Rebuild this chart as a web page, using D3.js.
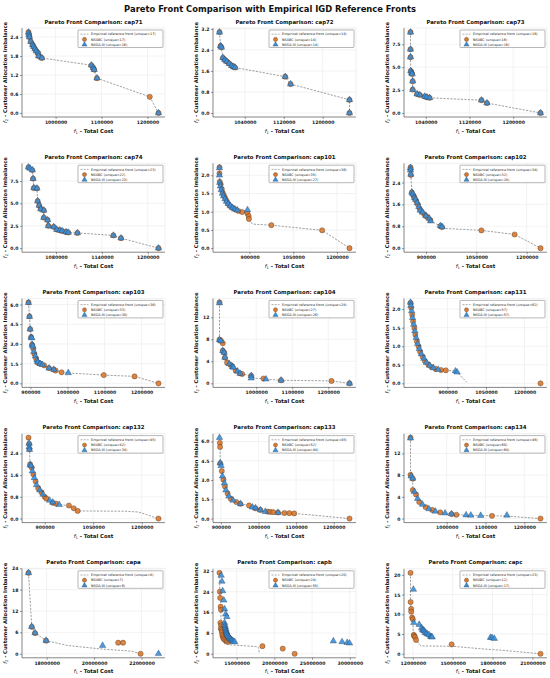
<!DOCTYPE html>
<html>
<head>
<meta charset="utf-8">
<script src="https://cdn.jsdelivr.net/npm/d3@7"></script>
<style>
  body { margin: 0; background: #fff; }
  text { font-family: "DejaVu Sans", sans-serif; }
</style>
</head>
<body>
<script>
// ---- data: [total cost, imbalance] ----
var panelNames = ["cap71","cap72","cap73","cap74","cap101","cap102","cap103","cap104",
                  "cap131","cap132","cap133","cap134","capa","capb","capc"];

var uniqueRef   = [17,14,16,23,36,34,36,28,62,45,45,46,8,20,23];
var uniqueNsabc = [17,14,16,22,35,32,33,27,57,42,52,60,7,24,12];
var uniqueNsga  = [16,14,16,23,27,28,30,26,57,34,44,64,6,55,17];

// cap71
var refCap71 = [[941000,2.56],[942000,2.48],[943000,2.40],[946000,2.26],[950000,2.16],[952000,2.10],[955000,2.03],[958000,1.96],[962000,1.90],[963000,1.80],[970000,1.74],[1078000,1.51],[1082000,1.43],[1084000,1.37],[1090000,1.10],[1205000,0.51],[1224000,0.0]];
var nsabcCap71 = [[941000,2.56],[942000,2.48],[943000,2.40],[946000,2.26],[950000,2.16],[952000,2.10],[955000,2.03],[958000,1.96],[962000,1.90],[963000,1.80],[970000,1.74],[1078000,1.51],[1082000,1.43],[1084000,1.37],[1090000,1.10],[1205000,0.51],[1224000,0.0]];
var nsgaCap71 = [[941000,2.55],[942000,2.47],[943000,2.40],[946000,2.26],[950000,2.16],[952000,2.10],[955000,2.03],[958000,1.96],[962000,1.90],[963000,1.80],[970000,1.74],[1078000,1.51],[1082000,1.43],[1084000,1.37],[1090000,1.10],[1224000,0.0]];

// cap72
var refCap72 = [[988000,3.08],[990000,2.55],[992000,2.50],[995000,2.10],[999000,2.02],[1003000,1.96],[1008000,1.88],[1013000,1.80],[1017000,1.76],[1020000,1.73],[1123000,1.38],[1134000,1.10],[1255000,0.50],[1255000,0.0]];
var nsabcCap72 = [[988000,3.08],[990000,2.55],[992000,2.50],[995000,2.10],[999000,2.02],[1003000,1.96],[1008000,1.88],[1013000,1.80],[1017000,1.76],[1020000,1.73],[1123000,1.38],[1134000,1.10],[1255000,0.50],[1255000,0.0]];
var nsgaCap72 = [[988000,3.07],[990000,2.55],[992000,2.50],[995000,2.10],[999000,2.02],[1003000,1.96],[1008000,1.88],[1013000,1.80],[1017000,1.76],[1020000,1.73],[1123000,1.38],[1134000,1.10],[1255000,0.50],[1255000,0.0]];

// cap73
var refCap73 = [[1012000,8.83],[1012000,6.95],[1012000,6.09],[1012500,4.59],[1014000,4.40],[1015000,4.25],[1016000,3.46],[1016000,2.55],[1024000,2.07],[1029000,1.97],[1038000,1.80],[1042000,1.72],[1047000,1.65],[1142000,1.39],[1152000,1.08],[1250000,0.0]];
var nsabcCap73 = [[1012000,8.83],[1012000,6.95],[1012000,6.09],[1012500,4.59],[1014000,4.40],[1015000,4.25],[1016000,3.46],[1016000,2.55],[1024000,2.07],[1029000,1.97],[1038000,1.80],[1042000,1.72],[1047000,1.65],[1142000,1.39],[1152000,1.08],[1250000,0.0]];
var nsgaCap73 = [[1012000,8.80],[1012000,6.95],[1012000,6.09],[1012500,4.59],[1014000,4.40],[1015000,4.25],[1016000,3.46],[1016000,2.55],[1024000,2.07],[1029000,1.97],[1038000,1.80],[1042000,1.72],[1047000,1.65],[1142000,1.39],[1152000,1.08],[1250000,0.0]];

// cap74
var refCap74 = [[1044000,9.04],[1046000,8.90],[1049000,8.73],[1050000,7.77],[1051000,6.73],[1055000,6.69],[1056000,5.27],[1058000,4.77],[1060000,4.38],[1064000,4.23],[1064000,3.42],[1069000,3.15],[1070000,2.50],[1077000,2.38],[1081000,2.08],[1085000,2.00],[1088000,1.92],[1093000,1.81],[1096000,1.75],[1108000,1.70],[1155000,1.42],[1165000,1.12],[1214000,0.0]];
var nsabcCap74 = [[1044000,9.04],[1049000,8.73],[1050000,7.77],[1051000,6.73],[1055000,6.69],[1056000,5.27],[1058000,4.77],[1060000,4.38],[1064000,4.23],[1064000,3.42],[1069000,3.15],[1070000,2.50],[1077000,2.38],[1081000,2.08],[1085000,2.00],[1088000,1.92],[1093000,1.81],[1096000,1.75],[1108000,1.70],[1155000,1.42],[1165000,1.12],[1214000,0.0]];
var nsgaCap74 = [[1044000,9.04],[1046000,8.90],[1049000,8.73],[1050000,7.77],[1051000,6.73],[1055000,6.69],[1056000,5.27],[1058000,4.77],[1060000,4.38],[1064000,4.23],[1064000,3.42],[1069000,3.15],[1070000,2.50],[1077000,2.38],[1081000,2.08],[1085000,2.00],[1088000,1.92],[1093000,1.81],[1096000,1.75],[1108000,1.70],[1155000,1.42],[1165000,1.12],[1214000,0.0]];

// cap101
var refCap101 = [[797000,2.22],[797000,2.05],[797500,1.99],[798000,1.82],[801000,1.75],[805000,1.62],[808000,1.52],[812000,1.45],[817000,1.37],[822000,1.29],[828000,1.21],[835000,1.15],[843000,1.10],[852000,1.06],[862000,1.02],[875000,0.99],[893000,0.95],[897000,0.88],[898000,0.80],[910000,0.66],[975000,0.63],[1149000,0.49],[1243000,0.0]];
var nsabcCap101 = [[797000,2.22],[797000,2.05],[798000,1.82],[801000,1.75],[805000,1.62],[808000,1.52],[812000,1.45],[817000,1.37],[822000,1.29],[828000,1.21],[835000,1.15],[843000,1.10],[852000,1.06],[862000,1.02],[875000,0.99],[893000,0.95],[897000,0.88],[898000,0.80],[975000,0.63],[1149000,0.49],[1243000,0.0]];
var nsgaCap101 = [[797000,2.20],[797000,2.00],[798000,1.80],[800000,1.70],[803000,1.60],[807000,1.50],[811000,1.43],[816000,1.35],[821000,1.28],[827000,1.22],[834000,1.16],[842000,1.11],[850000,1.07],[858000,1.04],[893000,1.05]];

// cap102
var refCap102 = [[854000,2.96],[854000,2.87],[855000,2.68],[858000,2.04],[861000,1.98],[863000,1.92],[866000,1.85],[869000,1.78],[871000,1.73],[874000,1.66],[876000,1.60],[879000,1.52],[881000,1.45],[883000,1.38],[887000,1.34],[890000,1.31],[895000,1.24],[900000,1.18],[905000,1.13],[910000,1.09],[913000,1.03],[914000,0.99],[943000,0.81],[948000,0.77],[960000,0.72],[1065000,0.65],[1164000,0.50],[1241000,0.0]];
var nsabcCap102 = [[854000,2.96],[854000,2.87],[855000,2.68],[858000,2.04],[863000,1.92],[866000,1.85],[871000,1.73],[876000,1.60],[881000,1.45],[887000,1.34],[895000,1.24],[900000,1.18],[905000,1.13],[913000,1.03],[943000,0.81],[948000,0.77],[1065000,0.65],[1164000,0.50],[1241000,0.0]];
var nsgaCap102 = [[854000,2.94],[854000,2.85],[855000,2.70],[858000,2.04],[861000,1.98],[866000,1.85],[869000,1.78],[874000,1.66],[879000,1.52],[883000,1.38],[890000,1.31],[900000,1.18],[910000,1.09],[914000,0.99],[943000,0.82],[948000,0.78]];

// cap103
var refCap103 = [[894700,6.16],[897400,5.10],[899200,4.13],[901800,3.53],[903700,3.45],[904500,2.95],[906300,2.82],[907900,2.63],[909000,2.42],[910500,2.24],[913200,2.08],[915000,1.89],[917600,1.76],[919500,1.58],[926300,1.50],[932600,1.42],[936800,1.37],[950000,1.16],[963000,1.05],[968000,0.97],[984000,0.84],[1002000,0.79],[1098000,0.63],[1181000,0.53],[1245600,0.0]];
var nsabcCap103 = [[894700,6.16],[897400,5.10],[899200,4.13],[901800,3.53],[904500,2.95],[907900,2.63],[910500,2.24],[915000,1.89],[919500,1.58],[926300,1.50],[936800,1.37],[950000,1.16],[963000,1.05],[968000,0.97],[984000,0.84],[1098000,0.63],[1181000,0.53],[1245600,0.0]];
var nsgaCap103 = [[894700,6.14],[897400,5.08],[899200,4.12],[901800,3.50],[903700,3.45],[904500,2.95],[906300,2.82],[909000,2.42],[913200,2.08],[917600,1.76],[919500,1.62],[926300,1.50],[932600,1.42],[950000,1.16],[963000,1.05],[1002000,0.80]];

// cap104
var refCap104 = [[898000,14.7],[898000,7.94],[902000,7.75],[907000,7.30],[907000,5.94],[911000,5.63],[913000,4.69],[919000,3.75],[925000,3.56],[928000,3.40],[934000,3.06],[937000,2.90],[943000,2.31],[948000,2.20],[955000,1.81],[961000,1.70],[986000,1.38],[986000,0.94],[1020000,0.875],[1027000,0.75],[1069000,0.56],[1209000,0.44],[1259000,0.0]];
var nsabcCap104 = [[898000,14.7],[898000,7.94],[902000,7.75],[907000,7.30],[907000,5.94],[911000,5.63],[913000,4.69],[919000,3.75],[928000,3.40],[934000,3.06],[943000,2.31],[955000,1.81],[961000,1.70],[986000,1.38],[1020000,0.875],[1069000,0.56],[1209000,0.44],[1259000,0.0]];
var nsgaCap104 = [[898000,14.6],[898000,7.90],[902000,7.70],[907000,5.90],[911000,5.60],[913000,4.70],[925000,3.56],[934000,3.00],[937000,2.90],[948000,2.20],[955000,1.80],[986000,1.38],[986000,0.94],[1027000,0.75],[1069000,0.56],[1259000,0.0]];

// cap131
var refCap131 = [[756000,2.18],[757500,2.10],[758600,2.05],[760500,1.95],[762500,1.86],[764000,1.77],[766000,1.68],[768500,1.59],[771000,1.50],[773000,1.41],[775000,1.32],[778000,1.23],[781000,1.14],[784000,1.07],[787500,1.00],[790500,0.93],[793500,0.86],[798500,0.79],[803600,0.73],[808000,0.67],[812000,0.61],[818000,0.56],[825000,0.52],[831000,0.48],[837500,0.45],[845000,0.42],[853500,0.39],[864000,0.37],[875000,0.36],[893600,0.35],[931000,0.33],[937500,0.30],[975000,0.03]];
var nsabcCap131 = [[756000,2.17],[758600,2.04],[762500,1.85],[766000,1.67],[771000,1.49],[775000,1.31],[781000,1.13],[787500,0.99],[793500,0.85],[803600,0.72],[812000,0.60],[825000,0.51],[837500,0.44],[853500,0.39],[875000,0.36],[893600,0.35],[1262000,0.0]];
var nsgaCap131 = [[756000,2.18],[757500,2.10],[760500,1.95],[764000,1.77],[768500,1.59],[773000,1.41],[778000,1.23],[784000,1.07],[790500,0.93],[798500,0.79],[808000,0.67],[818000,0.56],[831000,0.48],[845000,0.42],[864000,0.37],[931000,0.33],[937500,0.30]];

// cap132
var refCap132 = [[850000,2.98],[852000,2.77],[852000,2.64],[853000,2.54],[855000,2.00],[858000,1.94],[860000,1.88],[862000,1.75],[865000,1.63],[868000,1.50],[872000,1.37],[875000,1.24],[880000,1.12],[885000,1.05],[890000,0.97],[895000,0.89],[900000,0.80],[905000,0.74],[915000,0.67],[925000,0.58],[935000,0.55],[945000,0.51],[975000,0.48],[990000,0.38],[1002000,0.28],[1150000,0.27],[1190000,0.24],[1215000,0.15],[1235000,0.06],[1252000,0.0]];
var nsabcCap132 = [[850000,2.98],[852000,2.75],[853000,2.56],[855000,2.00],[860000,1.88],[865000,1.63],[872000,1.37],[880000,1.12],[890000,0.97],[900000,0.80],[905000,0.74],[925000,0.58],[935000,0.55],[975000,0.48],[990000,0.38],[1002000,0.28],[1252000,0.0]];
var nsgaCap132 = [[852000,2.77],[852000,2.64],[853000,2.54],[855000,1.98],[858000,1.94],[862000,1.75],[868000,1.50],[875000,1.24],[885000,1.05],[895000,0.89],[915000,0.67],[925000,0.60],[945000,0.51]];

// cap133
var refCap133 = [[896500,6.30],[897500,5.90],[898000,5.58],[898500,4.32],[900800,4.10],[902600,3.70],[904300,3.30],[907000,3.03],[909500,2.76],[911000,2.49],[913600,2.22],[918000,1.96],[921300,1.74],[926400,1.55],[932600,1.42],[941000,1.29],[952000,1.15],[975000,1.02],[984000,0.88],[992000,0.80],[1005000,0.67],[1018000,0.54],[1031000,0.50],[1052000,0.46],[1082000,0.42],[1095000,0.40],[1242000,0.0]];
var nsabcCap133 = [[897500,5.90],[898000,5.58],[898500,4.30],[902600,3.70],[907000,3.03],[911000,2.49],[918000,1.96],[926400,1.55],[941000,1.29],[952000,1.15],[975000,1.02],[992000,0.80],[1005000,0.67],[1024000,0.54],[1031000,0.52],[1039000,0.50],[1052000,0.47],[1069000,0.43],[1082000,0.42],[1095000,0.40],[1242000,0.0]];
var nsgaCap133 = [[896500,6.30],[898500,4.32],[900800,4.10],[904300,3.30],[909500,2.76],[913600,2.22],[921300,1.74],[932600,1.42],[952000,1.15],[984000,0.88],[992000,0.82],[1005000,0.67],[1018000,0.54],[1052000,0.46]];

// cap134
var refCap134 = [[906700,14.9],[906700,8.10],[908300,7.80],[912500,7.37],[912500,5.27],[916700,4.95],[920800,4.44],[925000,3.68],[929200,3.05],[937500,2.60],[945800,2.10],[954200,1.78],[962500,1.59],[970800,1.33],[983300,1.14],[995800,1.00],[1012500,0.83],[1025000,0.70],[1050000,0.63],[1087500,0.55],[1155000,0.45],[1241700,0.0]];
var nsabcCap134 = [[906700,14.9],[906700,8.05],[912500,7.35],[912500,5.25],[920800,4.44],[929200,3.05],[945800,2.10],[962500,1.59],[983300,1.14],[1012500,0.83],[1025000,0.70],[1116700,0.50],[1241700,0.0]];
var nsgaCap134 = [[906700,14.8],[908300,7.80],[912500,7.40],[916700,4.95],[925000,3.68],[937500,2.60],[954200,1.78],[970800,1.33],[995800,1.00],[1012500,0.85],[1050000,0.65],[1062000,0.60],[1087500,0.55],[1155000,0.60]];

// capa
var refCapa = [[17233000,22.7],[17370000,7.55],[17507000,5.80],[17975000,3.68],[18900000,2.30],[20200000,1.40],[21600000,0.70],[21959000,0.0]];
var nsabcCapa = [[17233000,22.7],[17370000,7.55],[17507000,5.80],[17975000,3.68],[21015000,3.10],[21220000,3.10],[21959000,0.0]];
var nsgaCapa = [[17233000,22.7],[17370000,7.60],[17507000,5.85],[17975000,3.70],[20357000,2.30],[22715000,0.0]];

// capb
var refCapb = [[12730000,31.3],[12780000,24.0],[12820000,21.6],[12880000,18.2],[12950000,12.0],[13000000,9.3],[13100000,6.7],[13300000,5.0],[13400000,3.8],[14000000,3.5],[15500000,3.2],[17500000,2.8],[17900000,2.5],[18000000,0.3]];
var nsabcCapb = [[12730000,31.3],[12780000,24.0],[12820000,21.6],[12880000,18.2],[12930000,17.0],[12850000,12.0],[12950000,11.0],[12900000,9.8],[13000000,9.2],[13050000,8.4],[13100000,7.4],[13150000,6.7],[13250000,6.0],[13350000,5.6],[13500000,5.2],[13700000,4.9],[13900000,4.6],[18420000,2.93],[21110000,2.0],[22690000,0.0]];
var nsgaCapb = [[12950000,30.3],[13050000,28.0],[13150000,24.3],[13300000,20.7],[13400000,17.3],[13550000,15.3],[13700000,14.3],[13400000,12.0],[13450000,11.0],[13500000,10.3],[13550000,9.6],[13600000,9.0],[13650000,8.4],[13700000,8.0],[13750000,7.5],[13850000,7.0],[13950000,6.6],[14050000,6.2],[14150000,5.8],[14250000,5.5],[14350000,5.2],[14450000,5.0],[14600000,4.8],[14750000,4.6],[27820000,4.9],[28970000,4.6],[29650000,4.3],[29960000,4.1]];

// capc
var refCapc = [[11825000,20.5],[11830000,13.1],[11876000,11.3],[11900000,10.6],[11949000,9.2],[12000000,8.7],[12030000,6.0],[12073000,4.8],[12168000,4.2],[12241000,3.5],[12600000,2.0],[13500000,1.95],[15000000,1.9],[17000000,1.3],[19000000,0.8],[21607000,0.0]];
var nsabcCapc = [[11825000,20.5],[11830000,13.1],[11876000,11.35],[11880000,10.65],[11949000,9.17],[12000000,8.73],[12073000,4.80],[12100000,4.50],[12168000,4.19],[12241000,3.50],[14920000,2.36],[21607000,0.0]];
var nsgaCapc = [[12044000,16.3],[12073000,7.86],[12482000,7.40],[12657000,6.55],[12730000,6.10],[12780000,5.95],[12850000,5.85],[12920000,5.40],[13000000,5.20],[13095000,5.00],[13217000,4.80],[13340000,4.37],[13400000,4.30],[13460000,4.20],[17840000,4.10],[17960000,4.05],[18130000,3.85]];

// tick labels per panel
var xTickList = [
  [1000000,1100000,1200000], [1040000,1120000,1200000], [1040000,1120000,1200000],
  [1080000,1140000,1200000], [900000,1050000,1200000], [900000,1050000,1200000],
  [900000,1000000,1100000,1200000], [1000000,1100000,1200000], [900000,1050000,1200000],
  [900000,1050000,1200000], [900000,1000000,1100000,1200000], [1000000,1100000,1200000],
  [18000000,20000000,22000000], [15000000,20000000,25000000,30000000], [12000000,15000000,18000000,21000000]
];
var yTickList = [
  [0,0.6,1.2,1.8,2.4], [0,0.8,1.6,2.4,3.2], [0,2.5,5,7.5],
  [0,2.5,5,7.5], [0,0.5,1,1.5,2], [0,0.8,1.6,2.4],
  [0,1.5,3,4.5,6], [0,4,8,12], [0,0.5,1,1.5,2],
  [0,0.8,1.6,2.4], [0,1.5,3,4.5,6], [0,4,8,12],
  [0,6,12,18,24], [0,8,16,24,32], [0,5,10,15,20]
];

var refSeries   = [refCap71,refCap72,refCap73,refCap74,refCap101,refCap102,refCap103,refCap104,refCap131,refCap132,refCap133,refCap134,refCapa,refCapb,refCapc];
var nsabcSeries = [nsabcCap71,nsabcCap72,nsabcCap73,nsabcCap74,nsabcCap101,nsabcCap102,nsabcCap103,nsabcCap104,nsabcCap131,nsabcCap132,nsabcCap133,nsabcCap134,nsabcCapa,nsabcCapb,nsabcCapc];
var nsgaSeries  = [nsgaCap71,nsgaCap72,nsgaCap73,nsgaCap74,nsgaCap101,nsgaCap102,nsgaCap103,nsgaCap104,nsgaCap131,nsgaCap132,nsgaCap133,nsgaCap134,nsgaCapa,nsgaCapb,nsgaCapc];

// ---- drawing ----
var orange = "#d9782f", blue = "#3a8fd8";
var plotW = 143, plotH = 89;

var svg = d3.select("body").append("svg")
            .attr("width",550)
            .attr("height",678);

svg.append("text")
   .attr("x",270).attr("y",11.5)
   .attr("text-anchor","middle")
   .attr("font-size",8.4)
   .attr("font-weight","bold")
   .attr("fill","#111")
   .text("Pareto Front Comparison with Empirical IGD Reference Fronts");

panelNames.forEach(function(name, i) {
  var col = i % 3, row = Math.floor(i / 3);
  var g = svg.append("g")
             .attr("transform","translate(" + (22 + col*191) + "," + (28 + row*135.2) + ")");

  var ref = refSeries[i], nsabc = nsabcSeries[i], nsga = nsgaSeries[i];
  var all = ref.concat(nsabc, nsga);
  var xe = d3.extent(all, function(d){ return d[0]; });
  var ye = d3.extent(all, function(d){ return d[1]; });
  var xm = (xe[1]-xe[0])*0.05, ym = (ye[1]-ye[0])*0.05;   // matplotlib-like margins

  var x = d3.scaleLinear().domain([xe[0]-xm, xe[1]+xm]).range([0,plotW]);
  var y = d3.scaleLinear().domain([ye[0]-ym, ye[1]+ym]).range([plotH,0]);

  var xt = xTickList[i], yt = yTickList[i];
  var yIsInt = yt.every(function(v){ return Number.isInteger(v); });

  // grid
  g.selectAll(".gx").data(xt).enter().append("line")
   .attr("x1",function(d){ return x(d); }).attr("x2",function(d){ return x(d); })
   .attr("y1",0).attr("y2",plotH)
   .attr("stroke","#e6e6e6").attr("stroke-width",0.5);
  g.selectAll(".gy").data(yt).enter().append("line")
   .attr("x1",0).attr("x2",plotW)
   .attr("y1",function(d){ return y(d); }).attr("y2",function(d){ return y(d); })
   .attr("stroke","#e6e6e6").attr("stroke-width",0.5);

  // axes
  var xAxis = g.append("g").attr("transform","translate(0," + plotH + ")")
               .call(d3.axisBottom(x).tickValues(xt).tickFormat(d3.format("d")).tickSize(2).tickPadding(1.5));
  var yAxis = g.append("g")
               .call(d3.axisLeft(y).tickValues(yt).tickFormat(d3.format(yIsInt ? "d" : ".1f")).tickSize(2).tickPadding(1.5));
  [xAxis, yAxis].forEach(function(a) {
    a.select(".domain").remove();
    a.selectAll(".tick line").attr("stroke","#333").attr("stroke-width",0.5);
    a.selectAll(".tick text")
     .attr("font-size",4.6).attr("font-weight","bold")
     .attr("font-family","DejaVu Sans").attr("fill","#222");
  });

  // spines
  g.append("line").attr("x1",0).attr("x2",0).attr("y1",0).attr("y2",plotH)
   .attr("stroke","#333").attr("stroke-width",0.6);
  g.append("line").attr("x1",0).attr("x2",plotW).attr("y1",plotH).attr("y2",plotH)
   .attr("stroke","#333").attr("stroke-width",0.6);
  g.append("line").attr("x1",plotW).attr("x2",plotW).attr("y1",0).attr("y2",plotH)
   .attr("stroke","#e0e0e0").attr("stroke-width",0.5);
  g.append("line").attr("x1",0).attr("x2",plotW).attr("y1",0).attr("y2",0)
   .attr("stroke","#e0e0e0").attr("stroke-width",0.5);

  // reference front
  var line = d3.line().x(function(d){ return x(d[0]); }).y(function(d){ return y(d[1]); });
  g.append("path").datum(ref)
   .attr("d",line)
   .attr("fill","none")
   .attr("stroke","#777")
   .attr("stroke-width",0.7)
   .attr("stroke-dasharray","2.2,1.3");

  // NSABC circles
  g.selectAll(".ns").data(nsabc).enter().append("circle")
   .attr("cx",function(d){ return x(d[0]); })
   .attr("cy",function(d){ return y(d[1]); })
   .attr("r",2.6)
   .attr("fill",orange).attr("fill-opacity",0.9)
   .attr("stroke","#3a2a1a").attr("stroke-width",0.35);

  // NSGA-III triangles
  var tri = d3.symbol().type(d3.symbolTriangle).size(18);
  g.selectAll(".ng").data(nsga).enter().append("path")
   .attr("d",tri)
   .attr("transform",function(d){ return "translate(" + x(d[0]) + "," + y(d[1]) + ")"; })
   .attr("fill",blue).attr("fill-opacity",0.9)
   .attr("stroke","#1f3550").attr("stroke-width",0.35);

  // titles
  g.append("text")
   .attr("x",plotW/2).attr("y",-4.5)
   .attr("text-anchor","middle")
   .attr("font-size",5.4).attr("font-weight","bold").attr("fill","#111")
   .text("Pareto Front Comparison: " + name);

  var xl = g.append("text")
            .attr("x",plotW/2).attr("y",plotH + 15.5)
            .attr("text-anchor","middle")
            .attr("font-size",5.3).attr("font-weight","bold").attr("fill","#111");
  xl.append("tspan").attr("font-style","italic").attr("font-weight","normal").text("f");
  xl.append("tspan").attr("font-size",3.6).attr("dy",1.2).attr("font-weight","normal").text("1");
  xl.append("tspan").attr("dy",-1.2).text(" - Total Cost");

  var yl = g.append("text")
            .attr("transform","translate(-15," + (plotH/2) + ") rotate(-90)")
            .attr("text-anchor","middle")
            .attr("font-size",5.2).attr("font-weight","bold").attr("fill","#111");
  yl.append("tspan").attr("font-style","italic").attr("font-weight","normal").text("f");
  yl.append("tspan").attr("font-size",3.6).attr("dy",1.2).attr("font-weight","normal").text("2");
  yl.append("tspan").attr("dy",-1.2).text(" - Customer Allocation Imbalance");

  // legend
  var lg = g.append("g").attr("transform","translate(" + (plotW - 87) + ",2)");
  lg.append("rect").attr("width",85).attr("height",17.5)
    .attr("fill","#fff").attr("fill-opacity",0.85)
    .attr("stroke","#888").attr("stroke-width",0.6).attr("rx",0.6);
  var rows = [
    "Empirical reference front (unique=" + uniqueRef[i] + ")",
    "NSABC (unique=" + uniqueNsabc[i] + ")",
    "NSGA-III (unique=" + uniqueNsga[i] + ")"
  ];
  rows.forEach(function(t, k) {
    var ry = 4.2 + k*5.2;
    if (k === 0) {
      lg.append("line").attr("x1",2.5).attr("x2",10.5).attr("y1",ry).attr("y2",ry)
        .attr("stroke","#777").attr("stroke-width",0.6).attr("stroke-dasharray","2,1.2");
    } else if (k === 1) {
      lg.append("circle").attr("cx",6.5).attr("cy",ry).attr("r",2.1)
        .attr("fill",orange).attr("stroke","#3a2a1a").attr("stroke-width",0.3);
    } else {
      lg.append("path").attr("d",d3.symbol().type(d3.symbolTriangle).size(12))
        .attr("transform","translate(6.5," + ry + ")")
        .attr("fill",blue).attr("stroke","#1f3550").attr("stroke-width",0.3);
    }
    lg.append("text").attr("x",13).attr("y",ry + 1.2)
      .attr("font-size",3.4).attr("fill","#222").text(t);
  });
});
</script>
</body>
</html>
